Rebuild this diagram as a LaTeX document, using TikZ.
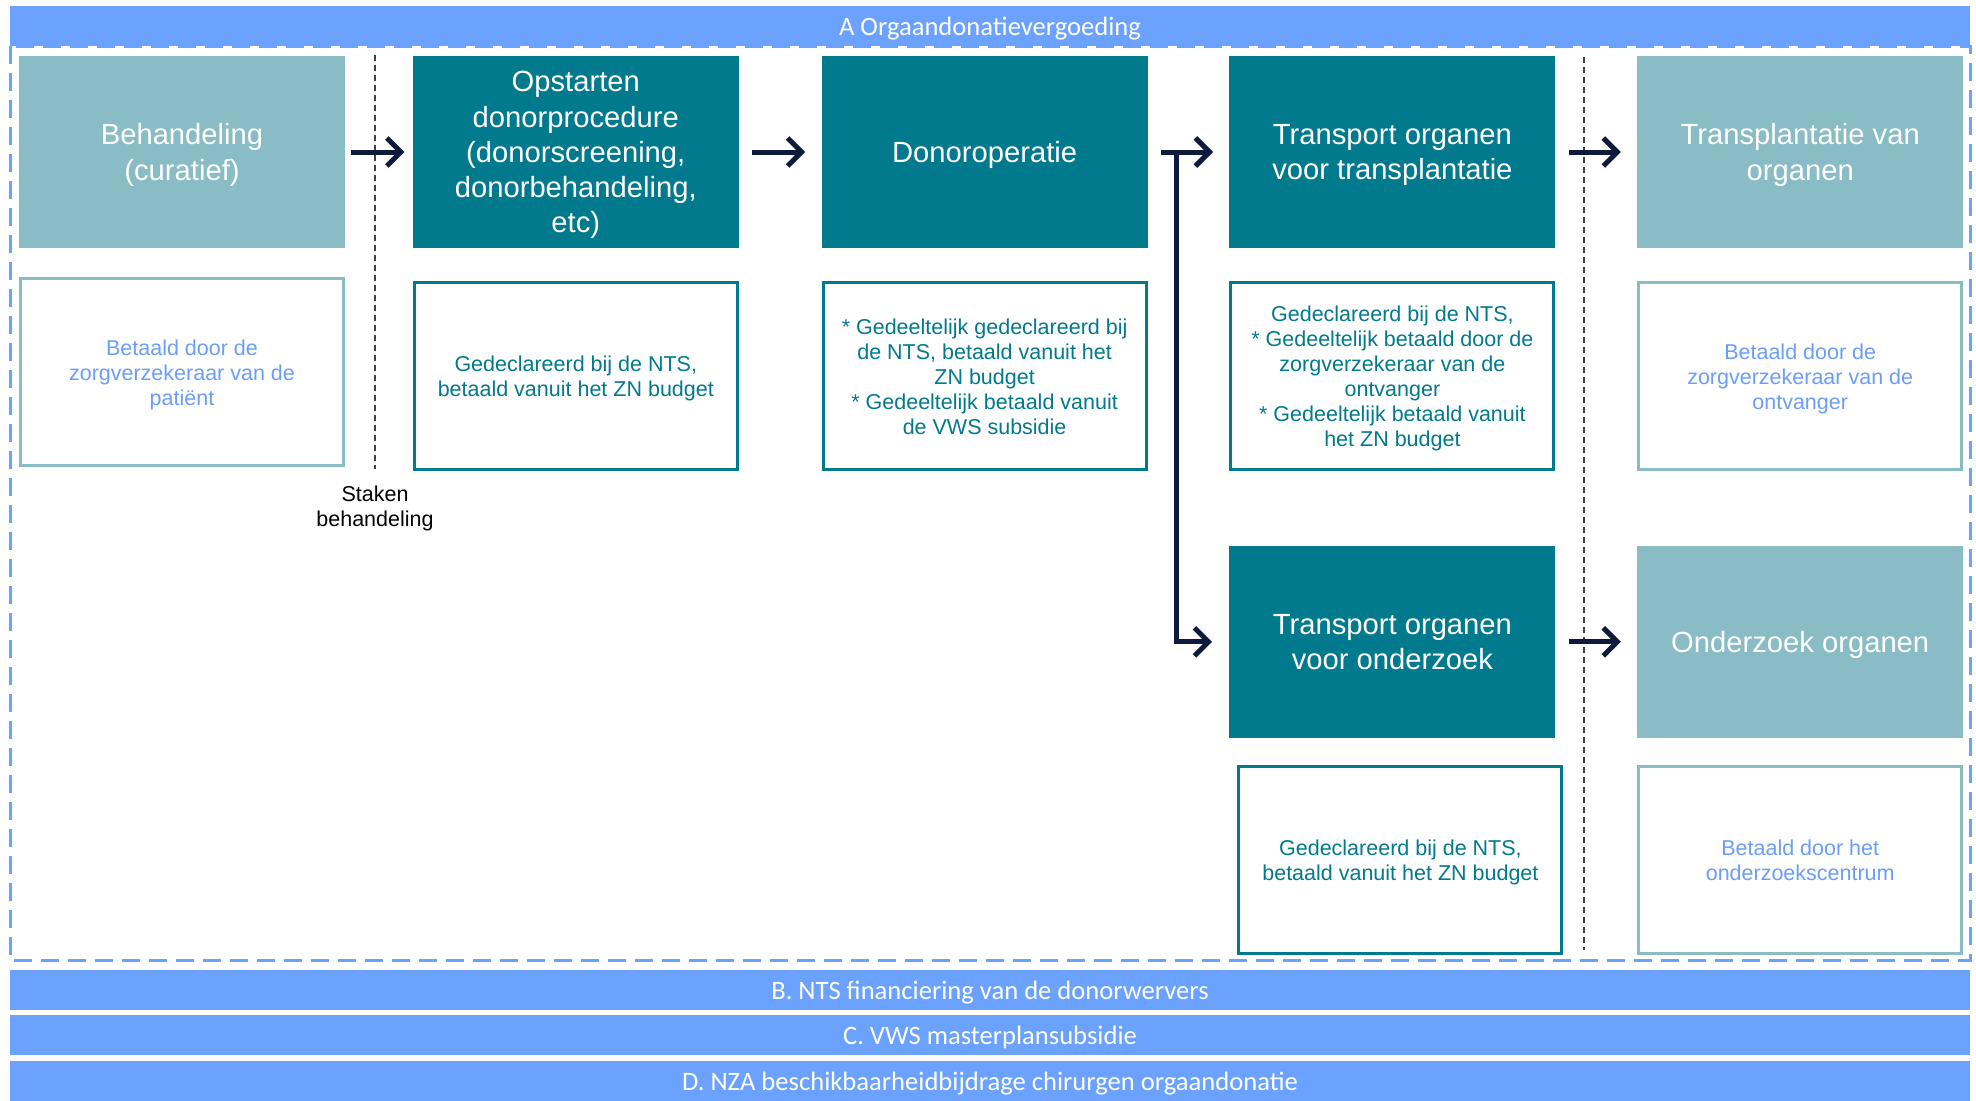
\documentclass[tikz,border=0pt]{standalone}
\usepackage{fontspec}
\setmainfont{Liberation Sans}
\newfontfamily\bannerfont{Carlito}
\usepackage{xcolor}
\usepackage{tikz}
\usetikzlibrary{arrows.meta,positioning,calc}

\definecolor{tealdark}{HTML}{007A8C}
\definecolor{teallight}{HTML}{89BCC5}
\definecolor{bannerblue}{HTML}{6CA2FF}
\definecolor{paytext}{HTML}{6C9EF8}
\definecolor{arrownavy}{HTML}{0E1A3D}
\definecolor{sepgray}{HTML}{404040}

\begin{document}
\begin{tikzpicture}[
    stepbox/.style={rectangle, fill=tealdark, text=white, minimum width=163pt, minimum height=96pt, align=center, inner sep=2pt, text depth=0pt, font=\fontsize{14.6}{17.6}\selectfont},
    endbox/.style={stepbox, fill=teallight},
    paybox/.style={rectangle, draw=tealdark, line width=1.5pt, fill=white, text=tealdark, minimum width=161.5pt, minimum height=93.5pt, align=center, text depth=0pt, font=\fontsize{10.75}{12.5}\selectfont},
    paylight/.style={paybox, draw=teallight, text=paytext},
    banner/.style={rectangle, fill=bannerblue, text=white, minimum width=980pt, minimum height=20pt, inner sep=0pt, text height=12.4pt, text depth=2.7pt, font=\bannerfont\fontsize{13.3}{15}\selectfont},
    frame/.style={draw=bannerblue, line width=1.5pt, dash pattern=on 9pt off 4.5pt},
    sepline/.style={draw=sepgray, line width=0.75pt, dash pattern=on 3pt off 2pt},
    arrow/.style={draw=arrownavy, line width=2.5pt, -{Straight Barb[length=7pt,width=14pt]}},
    node distance=16.5pt
]
\useasboundingbox (0,0) rectangle (988pt,-550pt);

% Frame and funding bars
\draw[frame] (5pt,-23pt) rectangle (985pt,-480pt);
\node[banner] (barA) at (495pt,-13pt) {A Orgaandonatievergoeding};
\node[banner] (barB) at (495pt,-495pt) {B. NTS financiering van de donorwervers};
\node[banner] (barC) at (495pt,-517.5pt) {C. VWS masterplansubsidie};
\node[banner] (barD) at (495pt,-540.5pt) {D. NZA beschikbaarheidbijdrage chirurgen orgaandonatie};

% Row 1: steps
\node[endbox] (behandeling) at (91pt,-76pt) {Behandeling\\(curatief)};
\node[stepbox, right=33.5pt of behandeling] (opstart) {Opstarten\\donorprocedure\\(donorscreening,\\donorbehandeling,\\etc)};
\node[stepbox, right=41pt of opstart] (donorop) {Donoroperatie};
\node[stepbox, right=40.5pt of donorop] (transptransport) {Transport organen\\voor transplantatie};
\node[endbox, right=40.5pt of transptransport] (transplantatie) {Transplantatie van\\organen};

% Row 2: payment
\node[paylight, below=14.5pt of behandeling] (paybehandeling) {Betaald door de\\zorgverzekeraar van de\\patiënt};
\node[paybox, below=of opstart] (payopstart) {Gedeclareerd bij de NTS,\\betaald vanuit het ZN budget};
\node[paybox, below=of donorop] (paydonorop) {* Gedeeltelijk gedeclareerd bij\\de NTS, betaald vanuit het\\ZN budget\\* Gedeeltelijk betaald vanuit\\de VWS subsidie};
\node[paybox, below=of transptransport] (paytransptransport) {Gedeclareerd bij de NTS,\\* Gedeeltelijk betaald door de\\zorgverzekeraar van de\\ontvanger\\* Gedeeltelijk betaald vanuit\\het ZN budget};
\node[paylight, below=of transplantatie] (paytransplantatie) {Betaald door de\\zorgverzekeraar van de\\ontvanger};

% Row 3: research branch
\node[stepbox, below=37pt of paytransptransport] (ondtransport) {Transport organen\\voor onderzoek};
\node[endbox, right=40.5pt of ondtransport] (onderzoek) {Onderzoek organen};
\node[paybox, below=13.5pt of ondtransport, xshift=4pt] (payondtransport) {Gedeclareerd bij de NTS,\\betaald vanuit het ZN budget};
\node[paylight, below=13.5pt of onderzoek] (payonderzoek) {Betaald door het\\onderzoekscentrum};

% Separators
\coordinate (sepAtop) at (187.5pt,-27.5pt);
\coordinate (sepAbot) at (187.5pt,-234.5pt);
\coordinate (sepBtop) at (792pt,-28.5pt);
\coordinate (sepBbot) at (792pt,-475pt);
\draw[sepline] (sepAtop) -- (sepAbot);
\draw[sepline] (sepBtop) -- (sepBbot);
\node[align=center, inner sep=0pt, font=\fontsize{10.75}{12.5}\selectfont] (staken) at (187.5pt,-254pt) {Staken\\behandeling};

% Arrows
\coordinate (split) at ($(donorop.east)+(14pt,0)$);
\draw[arrow, shorten <=3pt, shorten >=4pt] (behandeling) -- (opstart);
\draw[arrow, shorten <=6.5pt, shorten >=8pt] (opstart) -- (donorop);
\draw[arrow, shorten <=6.5pt, shorten >=8pt] (donorop) -- (transptransport);
\draw[arrow, shorten >=8.5pt] (split) |- (ondtransport);
\draw[arrow, shorten <=6.5pt, shorten >=8pt] (transptransport) -- (transplantatie);
\draw[arrow, shorten <=6.5pt, shorten >=8pt] (ondtransport) -- (onderzoek);
\end{tikzpicture}
\end{document}
